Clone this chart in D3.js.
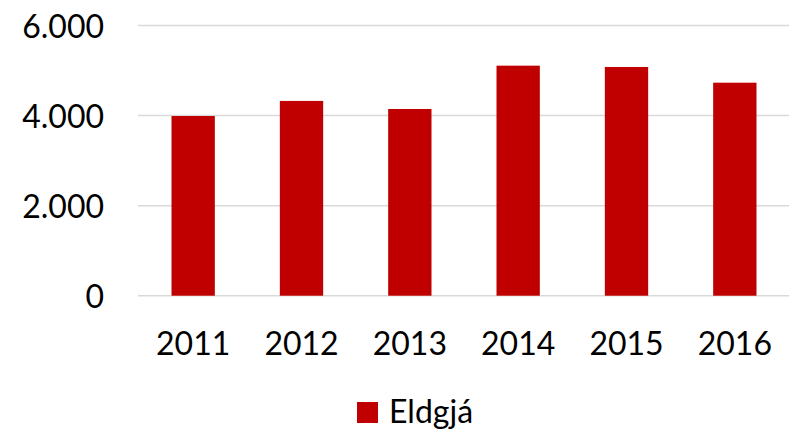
<!DOCTYPE html>
<html>
<head>
<meta charset="utf-8">
<script src="https://cdn.jsdelivr.net/npm/d3@7"></script>
<style>
  html, body { margin: 0; padding: 0; background: #fff; }
  svg { display: block; }
  text { font-family: Lato, "Open Sans", sans-serif; fill: #000; }
</style>
</head>
<body>
<svg id="chart" width="789" height="431"></svg>
<script>
const categories = ["2011", "2012", "2013", "2014", "2015", "2016"];
const values = [3990, 4325, 4146, 5108, 5079, 4730];
const yTicks = [0, 2000, 4000, 6000];
const seriesName = "Eldgjá";
const barColor = "#C00000";

const svg = d3.select("#chart");
const x = d3.scaleBand().domain(categories).range([139, 789]).paddingInner(0.6).paddingOuter(0.3);
const y = d3.scaleLinear().domain([0, 6000]).range([295.7, 25.5]);
const fmt = v => d3.format(",")(v).replace(/,/g, ".");

// gridlines
svg.append("g").selectAll("line").data(yTicks).join("line")
  .attr("x1", 138).attr("x2", 789)
  .attr("y1", d => y(d)).attr("y2", d => y(d))
  .attr("stroke", "#d9d9d9").attr("stroke-width", 1.5);

// y labels
svg.append("g").selectAll("text").data(yTicks).join("text")
  .attr("x", 104).attr("y", d => y(d))
  .attr("text-anchor", "end").attr("dominant-baseline", "central")
  .style("font-size", "32px")
  .text(fmt);

// bars
svg.append("g").selectAll("rect").data(values).join("rect")
  .attr("x", (d, i) => x(categories[i]))
  .attr("width", x.bandwidth())
  .attr("y", d => y(d))
  .attr("height", d => y(0) - y(d))
  .attr("fill", barColor);

// x labels
svg.append("g").selectAll("text").data(categories).join("text")
  .attr("x", d => x(d) + x.bandwidth() / 2).attr("y", 355)
  .attr("text-anchor", "middle")
  .style("font-size", "32px")
  .text(d => d);

// legend
const lg = svg.append("g");
lg.append("rect").attr("x", 357).attr("y", 402).attr("width", 21).attr("height", 21).attr("fill", barColor);
lg.append("text").attr("x", 389).attr("y", 423).style("font-size", "32px").text(seriesName);
</script>
</body>
</html>
